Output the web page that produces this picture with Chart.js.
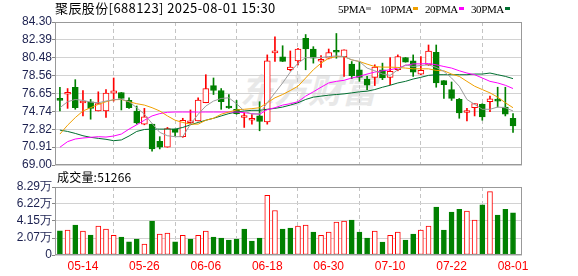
<!DOCTYPE html>
<html>
<head>
<meta charset="utf-8">
<script src="https://cdn.jsdelivr.net/npm/chart.js@4.4.1/dist/chart.umd.min.js"></script>
<style>
  html, body { margin: 0; padding: 0; background: #fff; }
  #wrap { position: relative; width: 578px; height: 276px; overflow: hidden; }
  canvas { position: absolute; left: 0; top: 0; }
  .txt { position: absolute; white-space: nowrap; color: #000; }
  #title { left: 55px; top: 0px; font-size: 13px; line-height: 15px; letter-spacing: 0.4px; font-family: 'Noto Sans CJK SC', sans-serif; }
  .lg { top: 3px; font-size: 11px; line-height: 12px; font-family: 'Liberation Serif', serif; letter-spacing: -0.4px; }
  .box { position: absolute; top: 7px; width: 5px; height: 3px; }
  #volTitle { left: 57px; top: 169px; font-size: 12px; line-height: 15px; letter-spacing: 0.2px; font-family: 'Noto Sans CJK SC', sans-serif; }
  #wm { left: 240px; top: 70px; font-size: 34px; line-height: 38px; font-weight: bold; font-style: italic; font-family: 'Noto Sans CJK SC', sans-serif; color: #e8e8e8; }
</style>
</head>
<body>
<div id="wrap">
  <div class="txt" id="wm">东方财富</div>
  <canvas id="priceChart" width="578" height="276"></canvas>
  <canvas id="volumeChart" width="578" height="276"></canvas>
  <div class="txt" id="title">聚辰股份[688123] 2025-08-01 15:30</div>
  <div class="txt lg" style="left:338px">5PMA</div><div class="box" style="left:366px;background:#a6a6a6"></div>
  <div class="txt lg" style="left:380px">10PMA</div><div class="box" style="left:413px;background:#f0a000"></div>
  <div class="txt lg" style="left:425px">20PMA</div><div class="box" style="left:459px;background:#ff00ff"></div>
  <div class="txt lg" style="left:471px">30PMA</div><div class="box" style="left:505px;background:#006f30"></div>
  <div class="txt" id="volTitle">成交量:51266</div>
</div>
<script>
// Trading days shown (2025)
const dates = [
  '05-09','05-12','05-13','05-14','05-15','05-16','05-19','05-20','05-21','05-22','05-23','05-26','05-27','05-28','05-29','05-30',
  '06-03','06-04','06-05','06-06','06-09','06-10','06-11','06-12','06-13','06-16','06-17','06-18','06-19','06-20',
  '06-23','06-24','06-25','06-26','06-27','06-30','07-01','07-02','07-03','07-04','07-07','07-08','07-09','07-10',
  '07-11','07-14','07-15','07-16','07-17','07-18','07-21','07-22','07-23','07-24','07-25','07-28','07-29','07-30','07-31','08-01'
];

// OHLC
const open = [76.12,76.57,77.32,75.63,75.77,74.78,74.78,76.69,76.76,75.91,74.78,73.37,73.37,71.54,70.90,72.84,72.03,73.52,73.72,75.66,
  77.50,76.97,75.13,74.96,74.08,73.79,74.25,73.62,81.00,80.57,79.19,80.14,82.54,81.41,80.10,80.42,81.08,80.60,79.79,79.19,
  78.20,78.38,79.19,78.38,79.19,80.50,80.14,78.73,79.72,81.06,78.03,77.07,76.02,74.62,75.13,75.49,75.77,75.86,75.20,74.00];
const high = [77.32,77.18,78.13,76.97,76.02,76.83,77.07,78.31,76.76,76.19,75.31,75.06,73.37,72.03,73.02,72.84,74.00,74.89,76.19,78.66,
  78.31,77.18,76.54,75.91,74.60,74.43,75.77,80.78,82.72,81.76,81.20,81.48,82.96,81.66,80.71,81.41,83.07,81.31,80.07,80.07,
  78.48,79.72,79.90,80.50,80.78,80.50,80.78,80.60,81.84,81.84,78.03,77.88,76.12,75.06,75.56,75.56,76.37,77.32,77.32,74.50];
const low = [74.78,75.06,74.96,74.25,73.90,74.78,74.08,75.84,74.89,75.06,73.37,73.30,70.48,70.72,70.90,72.10,71.96,73.37,73.72,75.66,
  76.54,74.96,75.06,74.43,73.02,73.37,72.66,73.37,80.07,80.07,79.08,79.72,79.19,79.90,79.44,80.35,80.42,78.48,78.24,77.96,
  77.07,77.50,78.13,77.60,79.08,80.00,78.48,78.66,79.65,77.32,76.12,75.91,74.00,73.72,74.25,73.79,74.71,75.20,74.25,72.49];
const close = [75.91,76.63,75.13,75.77,75.06,75.56,76.69,76.93,76.12,75.13,73.51,74.15,70.72,70.90,72.91,72.49,73.79,73.57,75.94,77.18,
  76.97,75.77,75.10,74.50,74.10,73.97,73.65,80.14,81.06,80.07,79.47,81.41,81.41,80.42,80.14,81.02,81.06,81.31,78.55,78.38,
  77.53,79.47,78.31,79.01,80.60,80.00,78.94,79.12,81.20,77.78,77.60,76.12,74.57,74.67,75.56,74.15,76.09,75.84,74.43,73.19];

// Moving averages
const ma5 = [75.13,75.77,76.01,75.91,75.73,75.66,75.84,75.98,76.05,75.77,75.13,74.43,73.44,72.49,72.13,72.03,72.03,73.37,74.43,75.31,
  75.84,76.12,76.19,75.56,74.78,74.43,74.50,75.66,76.72,77.78,78.94,79.89,80.49,80.49,80.49,80.60,80.67,80.60,80.25,80.07,
  79.37,79.08,78.73,78.59,79.19,79.72,79.54,79.65,79.72,79.44,79.01,78.31,77.43,76.01,75.49,74.96,74.96,75.20,75.13,74.78];
const ma10 = [72.31,73.26,74.07,74.78,75.13,75.49,75.77,75.98,76.01,75.77,75.56,75.41,75.13,74.78,74.25,73.79,73.55,73.37,73.37,73.79,
  74.00,74.43,74.67,74.89,74.96,75.03,75.13,75.66,76.19,76.54,76.97,77.43,78.31,79.19,79.89,80.42,80.60,80.60,80.25,80.07,
  79.79,79.54,79.47,79.47,79.44,79.37,79.29,79.29,79.29,79.12,79.08,78.73,78.48,77.95,77.43,77.07,76.72,76.26,75.66,75.13];
const ma20 = [70.90,71.50,71.78,71.89,71.96,72.03,71.99,72.10,72.31,72.84,73.30,73.79,74.25,74.50,74.64,74.67,74.67,74.67,74.67,74.67,
  74.67,74.67,74.67,74.67,74.60,74.50,74.43,74.92,75.13,75.41,75.56,75.77,76.37,76.83,77.32,77.78,77.95,78.06,78.31,78.48,
  78.73,78.94,79.08,79.19,79.37,79.65,79.82,79.82,79.86,79.72,79.54,79.37,79.08,78.84,78.66,78.31,77.95,77.78,77.53,77.18];
const ma30 = [72.73,72.59,72.38,72.13,71.96,71.85,71.75,71.60,71.68,72.10,72.59,72.80,72.84,72.84,72.84,72.84,73.02,73.30,73.55,73.79,
  74.00,74.25,74.50,74.67,74.78,74.85,74.85,74.96,75.06,75.20,75.41,75.66,76.01,76.26,76.37,76.47,76.54,76.61,76.72,76.83,
  76.90,77.07,77.32,77.53,77.78,77.95,78.20,78.38,78.59,78.66,78.66,78.66,78.66,78.66,78.73,78.73,78.84,78.66,78.48,78.24];

// Volume in 万 (10k), and whether each volume bar is drawn red (1) or green (0)
const volume = [2.95,3.03,3.64,2.91,2.43,3.52,3.16,2.39,2.18,1.62,1.94,1.34,4.13,2.55,2.67,1.62,2.39,1.94,2.39,2.91,
  2.18,2.06,1.82,1.94,3.16,1.70,2.06,7.28,5.42,3.16,3.28,3.52,3.64,2.79,2.39,2.79,4.01,4.13,4.25,2.79,
  2.06,2.91,1.58,2.39,2.79,1.82,2.55,3.03,3.52,5.83,3.03,5.22,5.58,5.34,4.25,6.11,7.73,4.86,5.58,5.13];
const volUp = [0,1,0,1,0,1,1,1,0,0,0,1,0,1,1,0,1,0,1,1,
  0,0,0,0,0,0,0,1,1,0,0,1,1,0,1,1,1,1,0,0,
  0,1,0,1,1,0,0,1,1,0,0,0,0,1,1,0,1,0,0,0];

// Axis ticks
const priceTicks = [69.00, 70.91, 72.82, 74.74, 76.65, 78.56, 80.48, 82.39, 84.30];
const volTicks = [0, 2.07, 4.15, 6.22, 8.29];
const dateTickIdx = dates.map((d, i) => i).filter(i => i % 8 === 3);

const RED = '#ff0000';
const GREEN = '#008000';
const up = close.map((c, i) => c >= open[i]);

// Full box round the plot area
const frame = {
  id: 'frame',
  afterDraw(chart) {
    const { ctx, chartArea: a } = chart;
    ctx.save();
    ctx.strokeStyle = '#999';
    ctx.lineWidth = 1;
    ctx.strokeRect(Math.round(a.left) + 0.5, Math.round(a.top) + 0.5, Math.round(a.right - a.left) - 1, Math.round(a.bottom - a.top) - 1);
    ctx.restore();
  }
};

const xScale = (showLabels) => ({
  type: 'linear',
  min: -0.64,
  max: 60.17,
  offset: false,
  border: { display: false, dash: [4, 3] },
  grid: { color: '#c4c4c4', drawTicks: false },
  ticks: {
    display: showLabels,
    autoSkip: false,
    maxRotation: 0,
    padding: 4,
    color: RED,
    font: { family: 'Liberation Sans', size: 12 },
    callback: v => dates[v]
  },
  afterBuildTicks: s => { s.ticks = dateTickIdx.map(v => ({ value: v })); },
  afterFit: s => { s.height = showLabels ? 21 : 0; }
});

const yScale = (min, max, ticks, fmt) => ({
  min: min,
  max: max,
  border: { display: false },
  grid: { color: '#d2d2d2', tickLength: 3, tickColor: '#888' },
  ticks: {
    autoSkip: false,
    padding: 0,
    color: '#1c2150',
    font: { family: 'Liberation Sans', size: 12 },
    callback: fmt
  },
  afterBuildTicks: s => { s.ticks = ticks.map(v => ({ value: v })); },
  afterFit: s => { s.width = 55; }
});

const maLine = (label, values, color) => ({
  type: 'line',
  label: label,
  data: values.map((v, i) => ({ x: i, y: v })),
  borderColor: color,
  borderWidth: 1,
  pointRadius: 0,
  tension: 0,
  order: 0
});

new Chart(document.getElementById('priceChart'), {
  type: 'bar',
  data: {
    datasets: [
      maLine('MA5', ma5, '#9c9c9c'),
      maLine('MA10', ma10, '#f0a000'),
      maLine('MA20', ma20, '#ff00ff'),
      maLine('MA30', ma30, '#006f30'),
      {
        label: 'body',
        data: open.map((o, i) => ({ x: i, y: [o, close[i]] })),
        backgroundColor: up.map(u => u ? '#ffffff' : GREEN),
        borderColor: up.map(u => u ? RED : GREEN),
        borderWidth: 1,
        borderSkipped: false,
        barThickness: 6,
        minBarLength: 2,
        grouped: false,
        order: 1
      },
      {
        label: 'wick',
        data: low.map((l, i) => ({ x: i, y: [l, high[i]] })),
        backgroundColor: up.map(u => u ? RED : GREEN),
        barThickness: 1,
        grouped: false,
        order: 2
      }
    ]
  },
  options: {
    responsive: false,
    animation: false,
    devicePixelRatio: 1,
    layout: { padding: { left: 0, right: 56, top: 22, bottom: 111 } },
    plugins: { legend: { display: false }, tooltip: { enabled: false } },
    scales: {
      x: xScale(false),
      y: yScale(69, 84.30, priceTicks, v => v.toFixed(2))
    }
  },
  plugins: [frame]
});

new Chart(document.getElementById('volumeChart'), {
  type: 'bar',
  data: {
    datasets: [{
      label: 'volume',
      data: volume.map((v, i) => ({ x: i, y: v })),
      backgroundColor: volUp.map(u => u ? '#ffffff' : GREEN),
      borderColor: volUp.map(u => u ? RED : GREEN),
      borderWidth: 1,
      borderSkipped: false,
      barThickness: 5,
      grouped: false
    }]
  },
  options: {
    responsive: false,
    animation: false,
    devicePixelRatio: 1,
    layout: { padding: { left: 0, right: 56, top: 187, bottom: 0 } },
    plugins: { legend: { display: false }, tooltip: { enabled: false } },
    scales: {
      x: xScale(true),
      y: yScale(0, 8.29, volTicks, v => v === 0 ? '0' : v.toFixed(2) + '万')
    }
  },
  plugins: [frame]
});
</script>
</body>
</html>
